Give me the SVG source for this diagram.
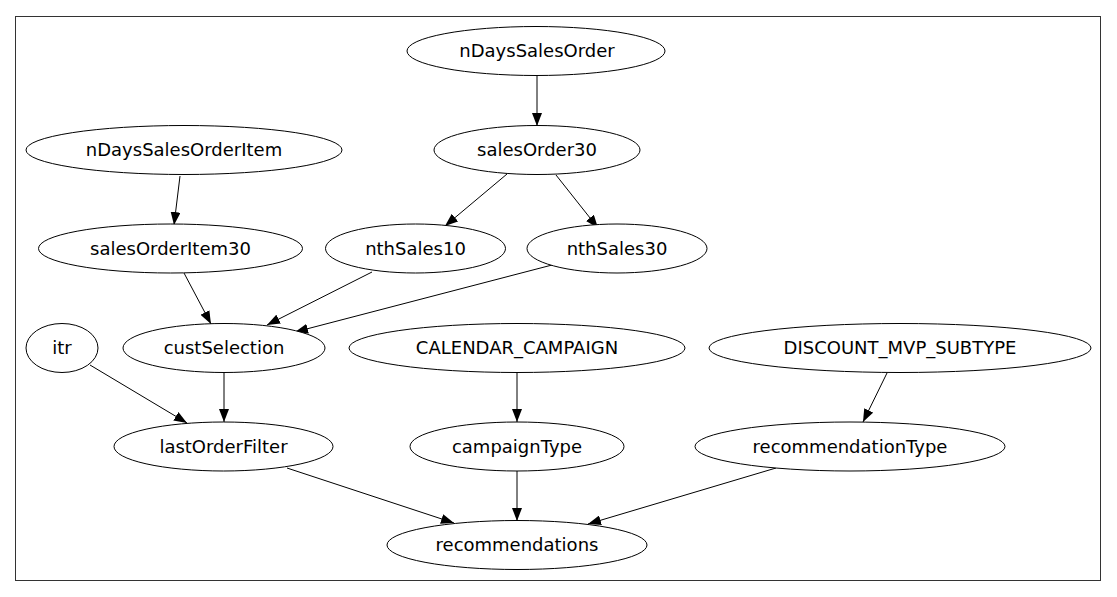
<svg xmlns="http://www.w3.org/2000/svg" width="1117" height="597" viewBox="0 0 1117 597">
<style>
.n ellipse{fill:#fff;stroke:#000;stroke-width:1}
.n text{font-family:"DejaVu Sans",sans-serif;font-size:18px;fill:#000;text-anchor:middle}
#edges line{stroke:#000;stroke-width:1;marker-end:url(#ah)}
</style>
<defs>
<marker id="ah" viewBox="0 0 13 10" refX="13" refY="5" markerWidth="13" markerHeight="10" markerUnits="userSpaceOnUse" orient="auto">
<path d="M0,0 L13,5 L0,10 z" fill="#000"/>
</marker>
</defs>
<rect x="0" y="0" width="1117" height="597" fill="#fff"/>
<rect x="15.5" y="16.5" width="1085" height="564" fill="none" stroke="#333" stroke-width="1"/>
<g id="edges">
<line x1="537" y1="76" x2="537" y2="126"/>
<line x1="507" y1="174" x2="445" y2="226"/>
<line x1="556" y1="175" x2="598" y2="228"/>
<line x1="180" y1="176" x2="174" y2="225"/>
<line x1="184" y1="273" x2="211" y2="324"/>
<line x1="372" y1="272" x2="267" y2="325"/>
<line x1="552" y1="265" x2="295" y2="332"/>
<line x1="90" y1="365" x2="187" y2="423"/>
<line x1="224" y1="372" x2="224" y2="422"/>
<line x1="517" y1="372" x2="517" y2="422"/>
<line x1="887" y1="373" x2="863" y2="422"/>
<line x1="287" y1="468" x2="454" y2="523"/>
<line x1="517" y1="471" x2="517" y2="521"/>
<line x1="776" y1="468" x2="588" y2="524"/>
</g>
<g id="nDaysSalesOrder" class="n"><ellipse cx="536" cy="51" rx="129" ry="24.5"/><text x="537" y="57">nDaysSalesOrder</text></g>
<g id="salesOrder30" class="n"><ellipse cx="537" cy="150" rx="103" ry="24.5"/><text x="537" y="156">salesOrder30</text></g>
<g id="nDaysSalesOrderItem" class="n"><ellipse cx="184" cy="150" rx="158" ry="24.5"/><text x="184" y="156">nDaysSalesOrderItem</text></g>
<g id="salesOrderItem30" class="n"><ellipse cx="170.5" cy="248.5" rx="132" ry="24.5"/><text x="170.5" y="254.5">salesOrderItem30</text></g>
<g id="nthSales10" class="n"><ellipse cx="415.5" cy="248.5" rx="90" ry="24.5"/><text x="415.5" y="254.5">nthSales10</text></g>
<g id="nthSales30" class="n"><ellipse cx="617" cy="248.5" rx="90" ry="24.5"/><text x="617" y="254.5">nthSales30</text></g>
<g id="itr" class="n"><ellipse cx="62" cy="348" rx="36" ry="24.5"/><text x="62" y="354">itr</text></g>
<g id="custSelection" class="n"><ellipse cx="224" cy="348" rx="101" ry="24.5"/><text x="224" y="354">custSelection</text></g>
<g id="CALENDAR_CAMPAIGN" class="n"><ellipse cx="517" cy="348" rx="168" ry="24.5"/><text x="517" y="354">CALENDAR_CAMPAIGN</text></g>
<g id="DISCOUNT_MVP_SUBTYPE" class="n"><ellipse cx="900" cy="348" rx="191" ry="24.5"/><text x="900" y="354">DISCOUNT_MVP_SUBTYPE</text></g>
<g id="lastOrderFilter" class="n"><ellipse cx="223.5" cy="446.5" rx="109.5" ry="24.5"/><text x="223.5" y="452.5">lastOrderFilter</text></g>
<g id="campaignType" class="n"><ellipse cx="517" cy="446.5" rx="107" ry="24.5"/><text x="517" y="452.5">campaignType</text></g>
<g id="recommendationType" class="n"><ellipse cx="850" cy="446.5" rx="155" ry="24.5"/><text x="850" y="452.5">recommendationType</text></g>
<g id="recommendations" class="n"><ellipse cx="517" cy="545" rx="130" ry="24.5"/><text x="517" y="551">recommendations</text></g>
</svg>
